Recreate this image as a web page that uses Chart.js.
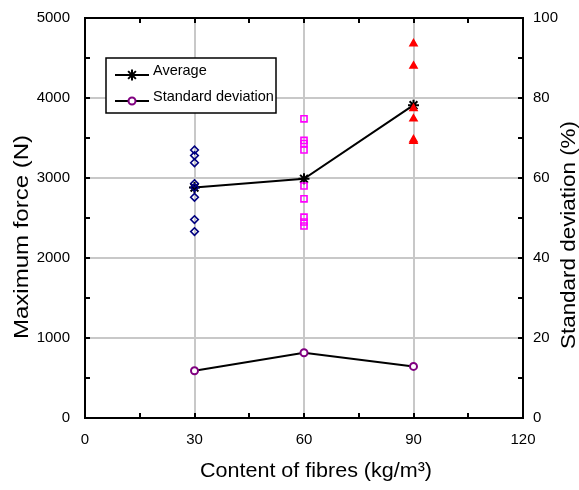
<!DOCTYPE html>
<html>
<head>
<meta charset="utf-8">
<script src="https://cdn.jsdelivr.net/npm/chart.js@4/dist/chart.umd.min.js"></script>
<style>
  html, body { margin: 0; padding: 0; background: #ffffff; }
  #wrap { width: 579px; height: 490px; position: relative; }
</style>
</head>
<body>
<div id="wrap"><canvas id="c"></canvas></div>
<script>
// Fibre contents tested (kg/m3)
const fibreContents = [30, 60, 90];

// Individual specimen results, maximum force (N)
const forces30 = [3350, 3280, 3190, 2930, 2880, 2760, 2480, 2330];
const forces60 = [3740, 3470, 3430, 3350, 2900, 2740, 2510, 2450, 2400];
const forces90 = [4680, 4400, 3870, 3740, 3480, 3460];

// Summary series
const averageForce = [2880, 2990, 3910];   // N
const stdDeviation = [11.8, 16.3, 12.9];   // %

// Axis ticks
const xTicks = [0, 30, 60, 90, 120];
const forceTicks = [0, 1000, 2000, 3000, 4000, 5000];
const sdTicks = [0, 20, 40, 60, 80, 100];

// Axis titles
const xTitle = 'Content of fibres (kg/m³)';
const yTitle = 'Maximum force (N)';
const y2Title = 'Standard deviation (%)';

const FONT = "'Liberation Sans', Arial, sans-serif";

const toPoints = (x, ys) => ys.map(y => ({ x, y }));
const pairs = (xs, ys) => xs.map((x, i) => ({ x, y: ys[i] }));

// Small inward tick marks on all four sides plus the top frame line
const frameTicks = {
  id: 'frameTicks',
  afterDatasetsDraw(chart) {
    const { ctx, chartArea: a, scales } = chart;
    ctx.save();
    ctx.strokeStyle = '#000';
    ctx.lineWidth = 2;
    ctx.beginPath();
    ctx.moveTo(a.left - 1, a.top);
    ctx.lineTo(a.right + 1, a.top);
    ctx.stroke();
    const len = 5;
    const xMajor = xTicks[1] - xTicks[0];
    for (let v = xTicks[0]; v <= xTicks[xTicks.length - 1]; v += xMajor / 2) {
      const px = Math.round(scales.x.getPixelForValue(v));
      ctx.beginPath();
      ctx.moveTo(px, a.bottom); ctx.lineTo(px, a.bottom - len);
      ctx.moveTo(px, a.top); ctx.lineTo(px, a.top + len);
      ctx.stroke();
    }
    const fMajor = forceTicks[1] - forceTicks[0];
    for (let v = forceTicks[0]; v <= forceTicks[forceTicks.length - 1]; v += fMajor / 2) {
      const py = Math.round(scales.y.getPixelForValue(v));
      ctx.beginPath();
      ctx.moveTo(a.left, py); ctx.lineTo(a.left + len, py);
      ctx.stroke();
    }
    const sMajor = sdTicks[1] - sdTicks[0];
    for (let v = sdTicks[0]; v <= sdTicks[sdTicks.length - 1]; v += sMajor / 2) {
      const py = Math.round(scales.y2.getPixelForValue(v));
      ctx.beginPath();
      ctx.moveTo(a.right, py); ctx.lineTo(a.right - len, py);
      ctx.stroke();
    }
    ctx.restore();
  }
};

// Axis titles, set in a slightly widened Arial-style face
const axisTitles = {
  id: 'axisTitles',
  afterDraw(chart) {
    const { ctx, chartArea: a } = chart;
    const put = (text, cx, cy, angle, length) => {
      ctx.save();
      ctx.font = '20px ' + FONT;
      ctx.fillStyle = '#000';
      ctx.textAlign = 'center';
      ctx.textBaseline = 'middle';
      const w = ctx.measureText(text).width;
      ctx.translate(cx, cy);
      ctx.rotate(angle);
      ctx.scale(length / w, 1);
      ctx.fillText(text, 0, 0);
      ctx.restore();
    };
    const midY = (a.top + a.bottom) / 2 + 19;
    put(xTitle, (a.left + a.right) / 2 + 12, a.bottom + 53, 0, 232);
    put(yTitle, 22, midY, -Math.PI / 2, 204);
    put(y2Title, 569, midY - 2, -Math.PI / 2, 228);
  }
};

// Boxed legend for the two summary series
const boxLegend = {
  id: 'boxLegend',
  afterDraw(chart) {
    const { ctx, chartArea: a } = chart;
    const entries = chart.data.datasets.filter(d => d.inLegend);
    const bx = a.left + 21, by = a.top + 40, bw = 170, bh = 55;
    ctx.save();
    ctx.fillStyle = '#fff';
    ctx.fillRect(bx, by, bw, bh);
    ctx.strokeStyle = '#000';
    ctx.lineWidth = 1.5;
    ctx.strokeRect(bx, by, bw, bh);
    entries.forEach((d, i) => {
      const ly = by + 17 + i * 26;
      ctx.save();
      ctx.strokeStyle = '#000';
      ctx.lineWidth = 2;
      ctx.beginPath();
      ctx.moveTo(bx + 9, ly);
      ctx.lineTo(bx + 43, ly);
      ctx.stroke();
      ctx.strokeStyle = d.pointBorderColor;
      ctx.fillStyle = d.pointBackgroundColor;
      ctx.lineWidth = d.pointBorderWidth;
      Chart.helpers.drawPoint(ctx, {
        pointStyle: d.pointStyle,
        radius: d.pointRadius,
        borderWidth: d.pointBorderWidth,
        rotation: 0
      }, bx + 26, ly);
      ctx.restore();
      ctx.fillStyle = '#000';
      ctx.font = '14.5px ' + FONT;
      ctx.textBaseline = 'middle';
      ctx.textAlign = 'left';
      ctx.fillText(d.label, bx + 47, ly - 4);
    });
    ctx.restore();
  }
};

const replicate = (label, x, ys, style, color, filled, radius) => ({
  label, type: 'scatter', yAxisID: 'y',
  data: toPoints(x, ys),
  showLine: false,
  pointStyle: style,
  pointRadius: radius,
  pointBorderWidth: 1.6,
  pointBorderColor: color,
  pointBackgroundColor: filled ? color : 'rgba(0,0,0,0)',
  inLegend: false
});

const plain = v => String(v);

// Fixed side widths; label overhang is absorbed by the layout padding
const fixVertical = width => s => {
  s.width = width;
  s.paddingTop = 0;
  s.paddingBottom = 0;
};

new Chart(document.getElementById('c'), {
  type: 'scatter',
  data: {
    datasets: [
      replicate('30 kg/m3', fibreContents[0], forces30, 'rectRot', '#000080', false, 3.8),
      replicate('60 kg/m3', fibreContents[1], forces60, 'rect', '#ff00ff', false, 4.3),
      replicate('90 kg/m3', fibreContents[2], forces90, 'triangle', '#ff0000', true, 4),
      {
        label: 'Average', yAxisID: 'y',
        data: pairs(fibreContents, averageForce),
        showLine: true, borderColor: '#000', borderWidth: 2,
        pointStyle: 'star', pointRadius: 5.5, pointBorderWidth: 2,
        pointBorderColor: '#000', pointBackgroundColor: '#000',
        inLegend: true
      },
      {
        label: 'Standard deviation', yAxisID: 'y2',
        data: pairs(fibreContents, stdDeviation),
        showLine: true, borderColor: '#000', borderWidth: 2,
        pointStyle: 'circle', pointRadius: 3.5, pointBorderWidth: 2,
        pointBorderColor: '#800080', pointBackgroundColor: '#ffffff',
        inLegend: true
      }
    ]
  },
  options: {
    responsive: true,
    maintainAspectRatio: false,
    animation: false,
    layout: { padding: { top: 18, left: 0, right: 0, bottom: 0 } },
    plugins: { legend: { display: false }, tooltip: { enabled: false } },
    scales: {
      x: {
        type: 'linear', position: 'bottom',
        min: xTicks[0], max: xTicks[xTicks.length - 1],
        afterBuildTicks: s => { s.ticks = xTicks.map(v => ({ value: v })); },
        afterFit: s => { s.height = 72; s.paddingLeft = 0; s.paddingRight = 0; },
        ticks: { color: '#000', font: { family: FONT, size: 15 }, padding: 13, callback: plain },
        grid: { color: '#c8c8c8', lineWidth: 2, drawTicks: false },
        border: { display: true, color: '#000', width: 2 }
      },
      y: {
        type: 'linear', position: 'left',
        min: forceTicks[0], max: forceTicks[forceTicks.length - 1],
        afterBuildTicks: s => { s.ticks = forceTicks.map(v => ({ value: v })); },
        afterFit: fixVertical(85),
        ticks: { color: '#000', font: { family: FONT, size: 15 }, padding: 15, callback: plain },
        grid: { color: '#c8c8c8', lineWidth: 2, drawTicks: false },
        border: { display: true, color: '#000', width: 2 }
      },
      y2: {
        type: 'linear', position: 'right',
        min: sdTicks[0], max: sdTicks[sdTicks.length - 1],
        afterBuildTicks: s => { s.ticks = sdTicks.map(v => ({ value: v })); },
        afterFit: fixVertical(56),
        ticks: { color: '#000', font: { family: FONT, size: 15 }, padding: 10, callback: plain },
        grid: { display: false, drawTicks: false },
        border: { display: true, color: '#000', width: 2 }
      }
    }
  },
  plugins: [frameTicks, axisTitles, boxLegend]
});
</script>
</body>
</html>
